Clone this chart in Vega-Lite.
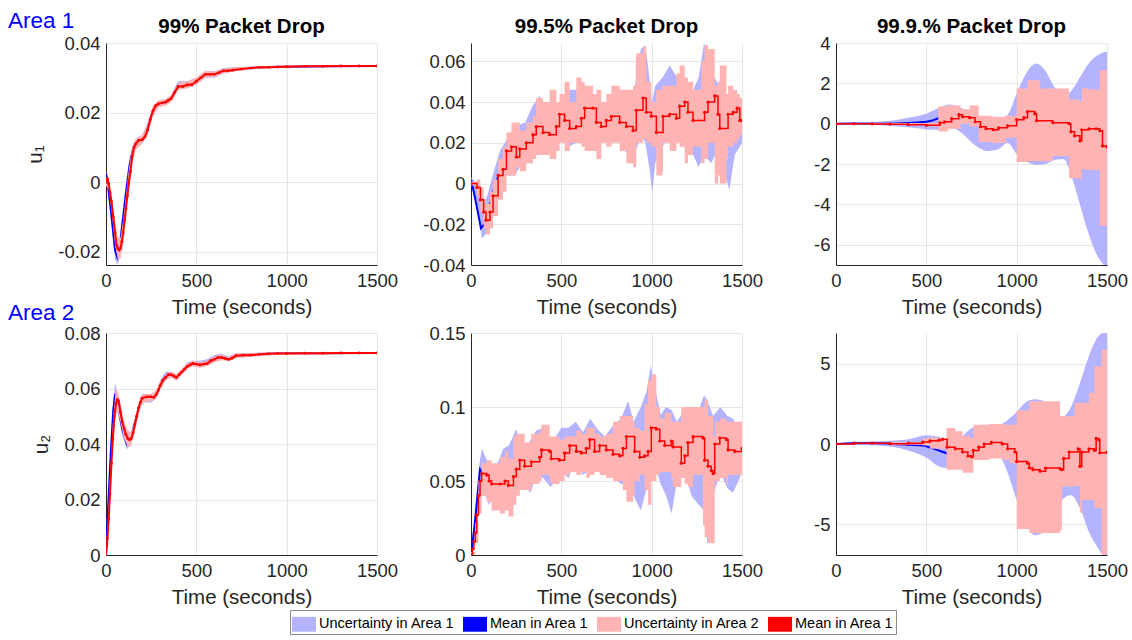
{
"$schema": "https://vega.github.io/schema/vega-lite/v6.json",
"background": "white",
"padding": {"left": 8, "top": 10, "right": 8, "bottom": 2},
"config": {
  "font": "Liberation Sans",
  "view": {"stroke": null},
  "axis": {"labelFont": "Liberation Sans", "labelFontSize": 18.5, "labelColor": "#262626", "titleFont": "Liberation Sans", "titleFontSize": 20.5, "titleFontWeight": "normal", "titleColor": "#262626", "domainColor": "#262626", "gridColor": "#e6e6e6", "ticks": false, "labelPadding": 6, "labelOverlap": false},
  "axisX": {"titlePadding": 8, "labelFlush": false, "format": "d"},
  "axisY": {"titlePadding": 12},
  "title": {"font": "Liberation Sans", "fontSize": 20.5, "fontWeight": "bold", "color": "#000000", "offset": -3},
  "legend": {"labelFont": "Liberation Sans", "labelFontSize": 14.5, "labelColor": "#000000", "symbolSize": 576, "strokeColor": "#8c8c8c", "fillColor": "white", "padding": 2, "columnPadding": 8, "labelOffset": 3}
},
"title": {"text": "Area 1", "anchor": "start", "frame": "group", "fontSize": 22.5, "fontWeight": "normal", "color": "#0000ff", "dx": -98, "offset": 0, "dy": 16},
"resolve": {"scale": {"color": "shared"}, "legend": {"color": "shared"}},
"columns": 3,
"bounds": "flush",
"spacing": {"row": 68, "column": 94},
"datasets": {
"p1": [
{"k":"b1","t":0,"y":0.0005,"y2":0.003},{"k":"b1","t":10,"y":-0.002,"y2":0.001},{"k":"b1","t":30,"y":-0.012,"y2":-0.007},{"k":"b1","t":50,"y":-0.022,"y2":-0.017},{"k":"b1","t":62,"y":-0.0238,"y2":-0.019},{"k":"b1","t":75,"y":-0.022,"y2":-0.016},{"k":"b1","t":90,"y":-0.016,"y2":-0.009},{"k":"b1","t":110,"y":-0.007,"y2":0.0},{"k":"b1","t":130,"y":0.002,"y2":0.007},{"k":"b1","t":150,"y":0.008,"y2":0.011},{"k":"b1","t":175,"y":0.0105,"y2":0.013},{"k":"b1","t":200,"y":0.011,"y2":0.0135},{"k":"b1","t":230,"y":0.014,"y2":0.017},{"k":"b1","t":260,"y":0.019,"y2":0.022},{"k":"b1","t":290,"y":0.0215,"y2":0.0235},{"k":"b1","t":330,"y":0.0222,"y2":0.0238},{"k":"b1","t":360,"y":0.0235,"y2":0.025},{"k":"b1","t":400,"y":0.027,"y2":0.029},{"k":"b1","t":450,"y":0.027,"y2":0.029},{"k":"b1","t":500,"y":0.028,"y2":0.03},{"k":"b1","t":550,"y":0.03,"y2":0.032},{"k":"b1","t":600,"y":0.03,"y2":0.0318},{"k":"b1","t":650,"y":0.0312,"y2":0.0328},{"k":"b1","t":700,"y":0.0318,"y2":0.033},{"k":"b1","t":800,"y":0.0324,"y2":0.0332},{"k":"b1","t":900,"y":0.0328,"y2":0.0334},{"k":"b1","t":1000,"y":0.033,"y2":0.0335},{"k":"b1","t":1200,"y":0.0331,"y2":0.0336},{"k":"b1","t":1500,"y":0.0333,"y2":0.0336},
{"k":"m1","t":0,"y":0.0025},{"k":"m1","t":10,"y":-0.0005},{"k":"m1","t":30,"y":-0.0095},{"k":"m1","t":50,"y":-0.0195},{"k":"m1","t":62,"y":-0.0215},{"k":"m1","t":75,"y":-0.019},{"k":"m1","t":90,"y":-0.0125},{"k":"m1","t":110,"y":-0.0035},{"k":"m1","t":130,"y":0.0045},{"k":"m1","t":150,"y":0.0095},{"k":"m1","t":175,"y":0.0118},{"k":"m1","t":200,"y":0.0123},{"k":"m1","t":230,"y":0.0155},{"k":"m1","t":260,"y":0.0205},{"k":"m1","t":290,"y":0.0226},{"k":"m1","t":330,"y":0.023},{"k":"m1","t":360,"y":0.0243},{"k":"m1","t":400,"y":0.028},{"k":"m1","t":450,"y":0.028},{"k":"m1","t":500,"y":0.029},{"k":"m1","t":550,"y":0.031},{"k":"m1","t":600,"y":0.031},{"k":"m1","t":650,"y":0.032},{"k":"m1","t":700,"y":0.0325},{"k":"m1","t":800,"y":0.0328},{"k":"m1","t":900,"y":0.0331},{"k":"m1","t":1000,"y":0.0332},{"k":"m1","t":1200,"y":0.0333},{"k":"m1","t":1500,"y":0.0334},
{"k":"b2","t":0,"y":-0.001,"y2":0.0015},{"k":"b2","t":15,"y":-0.002,"y2":0.001},{"k":"b2","t":30,"y":-0.008,"y2":-0.003},{"k":"b2","t":50,"y":-0.018,"y2":-0.011},{"k":"b2","t":65,"y":-0.022,"y2":-0.016},{"k":"b2","t":80,"y":-0.022,"y2":-0.016},{"k":"b2","t":95,"y":-0.018,"y2":-0.011},{"k":"b2","t":110,"y":-0.011,"y2":-0.004},{"k":"b2","t":125,"y":-0.004,"y2":0.003},{"k":"b2","t":145,"y":0.005,"y2":0.01},{"k":"b2","t":165,"y":0.0095,"y2":0.0125},{"k":"b2","t":200,"y":0.011,"y2":0.0135},{"k":"b2","t":230,"y":0.0135,"y2":0.0165},{"k":"b2","t":260,"y":0.019,"y2":0.022},{"k":"b2","t":290,"y":0.0215,"y2":0.0235},{"k":"b2","t":330,"y":0.022,"y2":0.0238},{"k":"b2","t":360,"y":0.023,"y2":0.025},{"k":"b2","t":400,"y":0.0265,"y2":0.0285},{"k":"b2","t":450,"y":0.027,"y2":0.029},{"k":"b2","t":500,"y":0.028,"y2":0.03},{"k":"b2","t":550,"y":0.03,"y2":0.032},{"k":"b2","t":600,"y":0.0302,"y2":0.0318},{"k":"b2","t":650,"y":0.0312,"y2":0.0326},{"k":"b2","t":700,"y":0.0318,"y2":0.033},{"k":"b2","t":800,"y":0.0325,"y2":0.0332},{"k":"b2","t":1000,"y":0.033,"y2":0.0335},{"k":"b2","t":1500,"y":0.0333,"y2":0.0336},
{"k":"m2","t":0,"y":0.0},{"k":"m2","t":8,"y":0.001},{"k":"m2","t":15,"y":-0.0005},{"k":"m2","t":22,"y":-0.003},{"k":"m2","t":30,"y":-0.0055},{"k":"m2","t":40,"y":-0.01},{"k":"m2","t":50,"y":-0.0145},{"k":"m2","t":58,"y":-0.018},{"k":"m2","t":65,"y":-0.019},{"k":"m2","t":72,"y":-0.0195},{"k":"m2","t":80,"y":-0.019},{"k":"m2","t":88,"y":-0.017},{"k":"m2","t":95,"y":-0.0145},{"k":"m2","t":103,"y":-0.011},{"k":"m2","t":110,"y":-0.0075},{"k":"m2","t":118,"y":-0.004},{"k":"m2","t":125,"y":-0.0005},{"k":"m2","t":135,"y":0.003},{"k":"m2","t":145,"y":0.0075},{"k":"m2","t":155,"y":0.01},{"k":"m2","t":165,"y":0.011},{"k":"m2","t":180,"y":0.012},{"k":"m2","t":200,"y":0.0122},{"k":"m2","t":215,"y":0.013},{"k":"m2","t":230,"y":0.015},{"k":"m2","t":245,"y":0.018},{"k":"m2","t":260,"y":0.0205},{"k":"m2","t":275,"y":0.022},{"k":"m2","t":290,"y":0.0225},{"k":"m2","t":310,"y":0.0228},{"k":"m2","t":330,"y":0.023},{"k":"m2","t":345,"y":0.0235},{"k":"m2","t":360,"y":0.024},{"k":"m2","t":380,"y":0.0258},{"k":"m2","t":400,"y":0.0275},{"k":"m2","t":425,"y":0.0275},{"k":"m2","t":450,"y":0.028},{"k":"m2","t":475,"y":0.028},{"k":"m2","t":500,"y":0.029},{"k":"m2","t":525,"y":0.03},{"k":"m2","t":550,"y":0.031},{"k":"m2","t":575,"y":0.031},{"k":"m2","t":600,"y":0.031},{"k":"m2","t":625,"y":0.0315},{"k":"m2","t":650,"y":0.032},{"k":"m2","t":675,"y":0.032},{"k":"m2","t":700,"y":0.0322},{"k":"m2","t":750,"y":0.0325},{"k":"m2","t":800,"y":0.0328},{"k":"m2","t":850,"y":0.033},{"k":"m2","t":900,"y":0.033},{"k":"m2","t":950,"y":0.0331},{"k":"m2","t":1000,"y":0.0332},{"k":"m2","t":1100,"y":0.0333},{"k":"m2","t":1200,"y":0.0333},{"k":"m2","t":1300,"y":0.0334},{"k":"m2","t":1400,"y":0.0334},{"k":"m2","t":1500,"y":0.0334}
],
"p2": [
{"k":"b1","t":0,"y":0.0,"y2":0.003},{"k":"b1","t":30,"y":-0.008,"y2":0.0},{"k":"b1","t":60,"y":-0.027,"y2":-0.012},{"k":"b1","t":90,"y":-0.024,"y2":-0.006},{"k":"b1","t":120,"y":-0.012,"y2":0.004},{"k":"b1","t":160,"y":-0.002,"y2":0.016},{"k":"b1","t":200,"y":0.004,"y2":0.022},{"k":"b1","t":240,"y":0.004,"y2":0.028},{"k":"b1","t":300,"y":0.012,"y2":0.03},{"k":"b1","t":340,"y":0.014,"y2":0.038},{"k":"b1","t":380,"y":0.016,"y2":0.043},{"k":"b1","t":420,"y":0.016,"y2":0.038},{"k":"b1","t":460,"y":0.022,"y2":0.036},{"k":"b1","t":500,"y":0.022,"y2":0.04},{"k":"b1","t":540,"y":0.018,"y2":0.046},{"k":"b1","t":580,"y":0.02,"y2":0.046},{"k":"b1","t":620,"y":0.02,"y2":0.048},{"k":"b1","t":660,"y":0.024,"y2":0.042},{"k":"b1","t":700,"y":0.02,"y2":0.038},{"k":"b1","t":750,"y":0.022,"y2":0.04},{"k":"b1","t":800,"y":0.026,"y2":0.04},{"k":"b1","t":850,"y":0.016,"y2":0.036},{"k":"b1","t":900,"y":0.012,"y2":0.044},{"k":"b1","t":940,"y":0.024,"y2":0.066},{"k":"b1","t":965,"y":0.02,"y2":0.068},{"k":"b1","t":990,"y":0.006,"y2":0.05},{"k":"b1","t":1003,"y":-0.005,"y2":0.04},{"k":"b1","t":1020,"y":0.01,"y2":0.048},{"k":"b1","t":1060,"y":0.018,"y2":0.052},{"k":"b1","t":1100,"y":0.024,"y2":0.058},{"k":"b1","t":1140,"y":0.022,"y2":0.052},{"k":"b1","t":1180,"y":0.018,"y2":0.04},{"k":"b1","t":1230,"y":0.014,"y2":0.046},{"k":"b1","t":1260,"y":0.008,"y2":0.052},{"k":"b1","t":1290,"y":0.014,"y2":0.069},{"k":"b1","t":1330,"y":0.01,"y2":0.056},{"k":"b1","t":1360,"y":0.016,"y2":0.05},{"k":"b1","t":1400,"y":0.006,"y2":0.044},{"k":"b1","t":1430,"y":-0.003,"y2":0.04},{"k":"b1","t":1460,"y":0.014,"y2":0.046},{"k":"b1","t":1500,"y":0.02,"y2":0.034},
{"k":"m1","t":0,"y":0.002},{"k":"m1","t":20,"y":-0.006},{"k":"m1","t":40,"y":-0.015},{"k":"m1","t":55,"y":-0.022},{"k":"m1","t":75,"y":-0.02},{"k":"m1","t":100,"y":-0.012},{"k":"m1","t":130,"y":-0.002},{"k":"m1","t":160,"y":0.006},{"k":"m1","t":200,"y":0.015},{"k":"m1","t":250,"y":0.016},{"k":"m1","t":300,"y":0.021},{"k":"m1","t":350,"y":0.025},{"k":"m1","t":400,"y":0.026},{"k":"m1","t":450,"y":0.025},{"k":"m1","t":500,"y":0.031},{"k":"m1","t":550,"y":0.028},{"k":"m1","t":600,"y":0.03},{"k":"m1","t":650,"y":0.034},{"k":"m1","t":700,"y":0.03},{"k":"m1","t":750,"y":0.031},{"k":"m1","t":800,"y":0.031},{"k":"m1","t":850,"y":0.028},{"k":"m1","t":900,"y":0.028},{"k":"m1","t":950,"y":0.036},{"k":"m1","t":980,"y":0.03},{"k":"m1","t":995,"y":0.026},{"k":"m1","t":1012,"y":0.023},{"k":"m1","t":1040,"y":0.026},{"k":"m1","t":1080,"y":0.032},{"k":"m1","t":1125,"y":0.038},{"k":"m1","t":1140,"y":0.039},{"k":"m1","t":1180,"y":0.037},{"k":"m1","t":1230,"y":0.032},{"k":"m1","t":1280,"y":0.033},{"k":"m1","t":1330,"y":0.038},{"k":"m1","t":1380,"y":0.03},{"k":"m1","t":1430,"y":0.03},{"k":"m1","t":1470,"y":0.034},{"k":"m1","t":1500,"y":0.029},
{"k":"b2","t":0,"y":-0.001,"y2":0.001},{"k":"b2","t":33,"y":-0.006,"y2":0.002},{"k":"b2","t":52,"y":-0.014,"y2":-0.002},{"k":"b2","t":70,"y":-0.022,"y2":-0.008},{"k":"b2","t":83,"y":-0.025,"y2":-0.01},{"k":"b2","t":105,"y":-0.022,"y2":-0.004},{"k":"b2","t":122,"y":-0.016,"y2":0.002},{"k":"b2","t":150,"y":-0.008,"y2":0.012},{"k":"b2","t":177,"y":-0.004,"y2":0.018},{"k":"b2","t":196,"y":0.004,"y2":0.025},{"k":"b2","t":224,"y":0.004,"y2":0.03},{"k":"b2","t":251,"y":0.008,"y2":0.03},{"k":"b2","t":270,"y":0.006,"y2":0.026},{"k":"b2","t":306,"y":0.01,"y2":0.03},{"k":"b2","t":343,"y":0.012,"y2":0.033},{"k":"b2","t":361,"y":0.014,"y2":0.042},{"k":"b2","t":398,"y":0.014,"y2":0.04},{"k":"b2","t":435,"y":0.012,"y2":0.046},{"k":"b2","t":472,"y":0.016,"y2":0.04},{"k":"b2","t":490,"y":0.02,"y2":0.044},{"k":"b2","t":518,"y":0.016,"y2":0.05},{"k":"b2","t":546,"y":0.02,"y2":0.04},{"k":"b2","t":583,"y":0.02,"y2":0.052},{"k":"b2","t":611,"y":0.018,"y2":0.05},{"k":"b2","t":629,"y":0.016,"y2":0.048},{"k":"b2","t":675,"y":0.016,"y2":0.044},{"k":"b2","t":694,"y":0.012,"y2":0.046},{"k":"b2","t":721,"y":0.02,"y2":0.04},{"k":"b2","t":749,"y":0.018,"y2":0.044},{"k":"b2","t":777,"y":0.02,"y2":0.048},{"k":"b2","t":823,"y":0.016,"y2":0.046},{"k":"b2","t":860,"y":0.01,"y2":0.046},{"k":"b2","t":897,"y":0.008,"y2":0.048},{"k":"b2","t":912,"y":0.008,"y2":0.062},{"k":"b2","t":915,"y":0.02,"y2":0.064},{"k":"b2","t":952,"y":0.022,"y2":0.067},{"k":"b2","t":970,"y":0.02,"y2":0.05},{"k":"b2","t":998,"y":0.018,"y2":0.04},{"k":"b2","t":1026,"y":0.004,"y2":0.046},{"k":"b2","t":1059,"y":0.006,"y2":0.048},{"k":"b2","t":1063,"y":0.02,"y2":0.048},{"k":"b2","t":1100,"y":0.016,"y2":0.048},{"k":"b2","t":1137,"y":0.02,"y2":0.054},{"k":"b2","t":1155,"y":0.018,"y2":0.058},{"k":"b2","t":1183,"y":0.01,"y2":0.052},{"k":"b2","t":1201,"y":0.014,"y2":0.05},{"k":"b2","t":1229,"y":0.018,"y2":0.046},{"k":"b2","t":1275,"y":0.01,"y2":0.06},{"k":"b2","t":1293,"y":0.012,"y2":0.068},{"k":"b2","t":1312,"y":0.02,"y2":0.066},{"k":"b2","t":1349,"y":0.0,"y2":0.048},{"k":"b2","t":1367,"y":0.004,"y2":0.05},{"k":"b2","t":1377,"y":0.0,"y2":0.058},{"k":"b2","t":1414,"y":0.012,"y2":0.044},{"k":"b2","t":1423,"y":0.018,"y2":0.048},{"k":"b2","t":1451,"y":0.02,"y2":0.046},{"k":"b2","t":1473,"y":0.022,"y2":0.044},{"k":"b2","t":1488,"y":0.024,"y2":0.042},{"k":"b2","t":1500,"y":0.024,"y2":0.04},
{"k":"m2","t":0,"y":0.0},{"k":"m2","t":33,"y":-0.002},{"k":"m2","t":52,"y":-0.008},{"k":"m2","t":70,"y":-0.014},{"k":"m2","t":83,"y":-0.018},{"k":"m2","t":105,"y":-0.014},{"k":"m2","t":122,"y":-0.006},{"k":"m2","t":150,"y":0.004},{"k":"m2","t":177,"y":0.007},{"k":"m2","t":196,"y":0.016},{"k":"m2","t":224,"y":0.018},{"k":"m2","t":251,"y":0.013},{"k":"m2","t":270,"y":0.017},{"k":"m2","t":306,"y":0.02},{"k":"m2","t":343,"y":0.024},{"k":"m2","t":361,"y":0.028},{"k":"m2","t":398,"y":0.025},{"k":"m2","t":435,"y":0.024},{"k":"m2","t":472,"y":0.028},{"k":"m2","t":490,"y":0.034},{"k":"m2","t":518,"y":0.031},{"k":"m2","t":546,"y":0.027},{"k":"m2","t":583,"y":0.028},{"k":"m2","t":611,"y":0.032},{"k":"m2","t":629,"y":0.037},{"k":"m2","t":675,"y":0.037},{"k":"m2","t":694,"y":0.03},{"k":"m2","t":721,"y":0.028},{"k":"m2","t":749,"y":0.031},{"k":"m2","t":777,"y":0.033},{"k":"m2","t":823,"y":0.03},{"k":"m2","t":860,"y":0.028},{"k":"m2","t":897,"y":0.026},{"k":"m2","t":915,"y":0.036},{"k":"m2","t":952,"y":0.042},{"k":"m2","t":970,"y":0.035},{"k":"m2","t":998,"y":0.033},{"k":"m2","t":1026,"y":0.025},{"k":"m2","t":1063,"y":0.033},{"k":"m2","t":1100,"y":0.034},{"k":"m2","t":1137,"y":0.032},{"k":"m2","t":1155,"y":0.038},{"k":"m2","t":1183,"y":0.04},{"k":"m2","t":1201,"y":0.035},{"k":"m2","t":1229,"y":0.031},{"k":"m2","t":1293,"y":0.035},{"k":"m2","t":1312,"y":0.04},{"k":"m2","t":1349,"y":0.043},{"k":"m2","t":1367,"y":0.034},{"k":"m2","t":1377,"y":0.027},{"k":"m2","t":1423,"y":0.034},{"k":"m2","t":1451,"y":0.035},{"k":"m2","t":1473,"y":0.037},{"k":"m2","t":1488,"y":0.031},{"k":"m2","t":1500,"y":0.031}
],
"p3": [
{"k":"b1","t":0,"y":-0.02,"y2":0.02},{"k":"b1","t":100,"y":-0.03,"y2":0.05},{"k":"b1","t":200,"y":-0.05,"y2":0.08},{"k":"b1","t":300,"y":-0.1,"y2":0.15},{"k":"b1","t":400,"y":-0.18,"y2":0.3},{"k":"b1","t":500,"y":-0.28,"y2":0.5},{"k":"b1","t":570,"y":-0.3,"y2":0.78},{"k":"b1","t":630,"y":-0.15,"y2":0.95},{"k":"b1","t":700,"y":-0.5,"y2":0.75},{"k":"b1","t":760,"y":-1.0,"y2":0.5},{"k":"b1","t":840,"y":-1.35,"y2":0.3},{"k":"b1","t":900,"y":-1.25,"y2":0.25},{"k":"b1","t":950,"y":-0.95,"y2":0.45},{"k":"b1","t":1000,"y":-1.5,"y2":1.5},{"k":"b1","t":1060,"y":-1.9,"y2":2.6},{"k":"b1","t":1110,"y":-2.05,"y2":2.98},{"k":"b1","t":1160,"y":-2.0,"y2":2.6},{"k":"b1","t":1210,"y":-1.8,"y2":1.8},{"k":"b1","t":1260,"y":-1.75,"y2":1.4},{"k":"b1","t":1300,"y":-2.5,"y2":1.6},{"k":"b1","t":1350,"y":-4.0,"y2":2.3},{"k":"b1","t":1400,"y":-5.5,"y2":3.0},{"k":"b1","t":1450,"y":-6.6,"y2":3.4},{"k":"b1","t":1490,"y":-7.0,"y2":3.55},{"k":"b1","t":1500,"y":-7.0,"y2":3.55},
{"k":"m1","t":0,"y":0.0},{"k":"m1","t":100,"y":0.01},{"k":"m1","t":200,"y":0.0},{"k":"m1","t":300,"y":0.0},{"k":"m1","t":400,"y":0.03},{"k":"m1","t":450,"y":0.06},{"k":"m1","t":500,"y":0.1},{"k":"m1","t":540,"y":0.18},{"k":"m1","t":570,"y":0.28},{"k":"m1","t":620,"y":0.35},{"k":"m1","t":700,"y":0.3},{"k":"m1","t":800,"y":-0.1},{"k":"m1","t":900,"y":-0.2},{"k":"m1","t":1000,"y":0.1},{"k":"m1","t":1100,"y":0.3},{"k":"m1","t":1200,"y":0.0},{"k":"m1","t":1300,"y":-0.5},{"k":"m1","t":1400,"y":-1.0},{"k":"m1","t":1500,"y":-1.75},
{"k":"b2","t":0,"y":-0.03,"y2":0.03},{"k":"b2","t":300,"y":-0.06,"y2":0.04},{"k":"b2","t":500,"y":-0.12,"y2":0.04},{"k":"b2","t":566,"y":-0.38,"y2":0.85},{"k":"b2","t":620,"y":-0.25,"y2":0.9},{"k":"b2","t":690,"y":0.0,"y2":0.72},{"k":"b2","t":740,"y":-0.15,"y2":0.9},{"k":"b2","t":790,"y":-0.9,"y2":0.4},{"k":"b2","t":860,"y":-0.95,"y2":0.35},{"k":"b2","t":940,"y":-0.7,"y2":0.4},{"k":"b2","t":1000,"y":-1.9,"y2":1.75},{"k":"b2","t":1060,"y":-1.85,"y2":2.15},{"k":"b2","t":1130,"y":-1.85,"y2":1.75},{"k":"b2","t":1200,"y":-1.6,"y2":1.75},{"k":"b2","t":1290,"y":-2.7,"y2":1.2},{"k":"b2","t":1350,"y":-2.75,"y2":1.1},{"k":"b2","t":1360,"y":-2.26,"y2":1.75},{"k":"b2","t":1400,"y":-2.3,"y2":1.7},{"k":"b2","t":1460,"y":-5.05,"y2":2.65},{"k":"b2","t":1500,"y":-5.0,"y2":2.7},
{"k":"m2","t":0,"y":0.0},{"k":"m2","t":100,"y":0.0},{"k":"m2","t":200,"y":-0.01},{"k":"m2","t":300,"y":-0.02},{"k":"m2","t":400,"y":-0.05},{"k":"m2","t":500,"y":-0.08},{"k":"m2","t":575,"y":0.05},{"k":"m2","t":600,"y":0.1},{"k":"m2","t":640,"y":0.25},{"k":"m2","t":680,"y":0.45},{"k":"m2","t":700,"y":0.35},{"k":"m2","t":740,"y":0.3},{"k":"m2","t":770,"y":0.1},{"k":"m2","t":800,"y":-0.15},{"k":"m2","t":830,"y":-0.25},{"k":"m2","t":870,"y":-0.3},{"k":"m2","t":900,"y":-0.2},{"k":"m2","t":950,"y":-0.1},{"k":"m2","t":1000,"y":0.2},{"k":"m2","t":1040,"y":0.3},{"k":"m2","t":1060,"y":0.6},{"k":"m2","t":1100,"y":0.5},{"k":"m2","t":1110,"y":0.15},{"k":"m2","t":1200,"y":0.05},{"k":"m2","t":1290,"y":0.0},{"k":"m2","t":1300,"y":-0.4},{"k":"m2","t":1320,"y":-0.6},{"k":"m2","t":1350,"y":-0.85},{"k":"m2","t":1360,"y":-0.3},{"k":"m2","t":1400,"y":-0.25},{"k":"m2","t":1440,"y":-0.25},{"k":"m2","t":1460,"y":-0.35},{"k":"m2","t":1475,"y":-1.1},{"k":"m2","t":1500,"y":-1.15}
],
"p4": [
{"k":"b1","t":0,"y":0.0,"y2":0.001},{"k":"b1","t":10,"y":0.012,"y2":0.018},{"k":"b1","t":25,"y":0.032,"y2":0.038},{"k":"b1","t":40,"y":0.049,"y2":0.055},{"k":"b1","t":50,"y":0.055,"y2":0.062},{"k":"b1","t":65,"y":0.051,"y2":0.058},{"k":"b1","t":90,"y":0.043,"y2":0.048},{"k":"b1","t":115,"y":0.038,"y2":0.042},{"k":"b1","t":140,"y":0.04,"y2":0.045},{"k":"b1","t":170,"y":0.048,"y2":0.052},{"k":"b1","t":200,"y":0.055,"y2":0.058},{"k":"b1","t":250,"y":0.055,"y2":0.058},{"k":"b1","t":280,"y":0.0565,"y2":0.059},{"k":"b1","t":300,"y":0.06,"y2":0.063},{"k":"b1","t":330,"y":0.063,"y2":0.066},{"k":"b1","t":360,"y":0.064,"y2":0.066},{"k":"b1","t":390,"y":0.063,"y2":0.065},{"k":"b1","t":420,"y":0.065,"y2":0.067},{"k":"b1","t":450,"y":0.067,"y2":0.0695},{"k":"b1","t":480,"y":0.068,"y2":0.07},{"k":"b1","t":520,"y":0.068,"y2":0.07},{"k":"b1","t":560,"y":0.0685,"y2":0.0705},{"k":"b1","t":600,"y":0.07,"y2":0.072},{"k":"b1","t":640,"y":0.0705,"y2":0.0725},{"k":"b1","t":680,"y":0.07,"y2":0.0715},{"k":"b1","t":720,"y":0.071,"y2":0.0728},{"k":"b1","t":800,"y":0.0715,"y2":0.0728},{"k":"b1","t":900,"y":0.072,"y2":0.073},{"k":"b1","t":1000,"y":0.0722,"y2":0.0731},{"k":"b1","t":1500,"y":0.0725,"y2":0.0731},
{"k":"m1","t":0,"y":0.0},{"k":"m1","t":10,"y":0.015},{"k":"m1","t":25,"y":0.035},{"k":"m1","t":40,"y":0.052},{"k":"m1","t":50,"y":0.058},{"k":"m1","t":65,"y":0.0545},{"k":"m1","t":90,"y":0.0455},{"k":"m1","t":115,"y":0.04},{"k":"m1","t":140,"y":0.0425},{"k":"m1","t":170,"y":0.05},{"k":"m1","t":200,"y":0.0565},{"k":"m1","t":250,"y":0.0565},{"k":"m1","t":280,"y":0.0578},{"k":"m1","t":300,"y":0.0615},{"k":"m1","t":330,"y":0.0645},{"k":"m1","t":360,"y":0.065},{"k":"m1","t":390,"y":0.064},{"k":"m1","t":420,"y":0.066},{"k":"m1","t":450,"y":0.068},{"k":"m1","t":480,"y":0.069},{"k":"m1","t":520,"y":0.069},{"k":"m1","t":560,"y":0.0695},{"k":"m1","t":600,"y":0.071},{"k":"m1","t":640,"y":0.0715},{"k":"m1","t":680,"y":0.0708},{"k":"m1","t":720,"y":0.072},{"k":"m1","t":800,"y":0.0722},{"k":"m1","t":900,"y":0.0725},{"k":"m1","t":1000,"y":0.0727},{"k":"m1","t":1500,"y":0.0728},
{"k":"b2","t":0,"y":0.0,"y2":0.001},{"k":"b2","t":10,"y":0.005,"y2":0.012},{"k":"b2","t":20,"y":0.016,"y2":0.026},{"k":"b2","t":30,"y":0.028,"y2":0.038},{"k":"b2","t":40,"y":0.04,"y2":0.05},{"k":"b2","t":55,"y":0.05,"y2":0.06},{"k":"b2","t":65,"y":0.052,"y2":0.059},{"k":"b2","t":80,"y":0.048,"y2":0.055},{"k":"b2","t":100,"y":0.042,"y2":0.048},{"k":"b2","t":120,"y":0.039,"y2":0.045},{"k":"b2","t":135,"y":0.039,"y2":0.044},{"k":"b2","t":150,"y":0.042,"y2":0.046},{"k":"b2","t":170,"y":0.048,"y2":0.052},{"k":"b2","t":190,"y":0.053,"y2":0.057},{"k":"b2","t":210,"y":0.055,"y2":0.058},{"k":"b2","t":250,"y":0.0555,"y2":0.058},{"k":"b2","t":280,"y":0.0565,"y2":0.0595},{"k":"b2","t":300,"y":0.0595,"y2":0.0625},{"k":"b2","t":330,"y":0.063,"y2":0.065},{"k":"b2","t":360,"y":0.064,"y2":0.066},{"k":"b2","t":390,"y":0.0628,"y2":0.0652},{"k":"b2","t":420,"y":0.065,"y2":0.067},{"k":"b2","t":450,"y":0.067,"y2":0.069},{"k":"b2","t":480,"y":0.068,"y2":0.07},{"k":"b2","t":520,"y":0.0675,"y2":0.0695},{"k":"b2","t":560,"y":0.068,"y2":0.07},{"k":"b2","t":600,"y":0.0695,"y2":0.0715},{"k":"b2","t":640,"y":0.0702,"y2":0.0722},{"k":"b2","t":680,"y":0.0698,"y2":0.0713},{"k":"b2","t":720,"y":0.071,"y2":0.0726},{"k":"b2","t":800,"y":0.0714,"y2":0.0727},{"k":"b2","t":900,"y":0.072,"y2":0.073},{"k":"b2","t":1000,"y":0.0722,"y2":0.073},{"k":"b2","t":1500,"y":0.0724,"y2":0.0731},
{"k":"m2","t":0,"y":0.0},{"k":"m2","t":8,"y":0.006},{"k":"m2","t":15,"y":0.013},{"k":"m2","t":22,"y":0.022},{"k":"m2","t":30,"y":0.033},{"k":"m2","t":38,"y":0.042},{"k":"m2","t":46,"y":0.05},{"k":"m2","t":55,"y":0.0545},{"k":"m2","t":62,"y":0.056},{"k":"m2","t":70,"y":0.0555},{"k":"m2","t":80,"y":0.0515},{"k":"m2","t":90,"y":0.048},{"k":"m2","t":100,"y":0.0455},{"k":"m2","t":110,"y":0.0435},{"k":"m2","t":120,"y":0.042},{"k":"m2","t":130,"y":0.0415},{"k":"m2","t":140,"y":0.042},{"k":"m2","t":150,"y":0.044},{"k":"m2","t":160,"y":0.047},{"k":"m2","t":170,"y":0.05},{"k":"m2","t":180,"y":0.053},{"k":"m2","t":190,"y":0.055},{"k":"m2","t":200,"y":0.0565},{"k":"m2","t":225,"y":0.057},{"k":"m2","t":250,"y":0.057},{"k":"m2","t":265,"y":0.0568},{"k":"m2","t":280,"y":0.058},{"k":"m2","t":290,"y":0.0595},{"k":"m2","t":300,"y":0.061},{"k":"m2","t":315,"y":0.063},{"k":"m2","t":330,"y":0.064},{"k":"m2","t":345,"y":0.065},{"k":"m2","t":360,"y":0.065},{"k":"m2","t":375,"y":0.0645},{"k":"m2","t":390,"y":0.064},{"k":"m2","t":405,"y":0.065},{"k":"m2","t":420,"y":0.066},{"k":"m2","t":435,"y":0.067},{"k":"m2","t":450,"y":0.068},{"k":"m2","t":465,"y":0.0685},{"k":"m2","t":480,"y":0.069},{"k":"m2","t":500,"y":0.0688},{"k":"m2","t":520,"y":0.0685},{"k":"m2","t":540,"y":0.0688},{"k":"m2","t":560,"y":0.069},{"k":"m2","t":580,"y":0.07},{"k":"m2","t":600,"y":0.0705},{"k":"m2","t":620,"y":0.0712},{"k":"m2","t":640,"y":0.0712},{"k":"m2","t":660,"y":0.0708},{"k":"m2","t":680,"y":0.0705},{"k":"m2","t":700,"y":0.071},{"k":"m2","t":720,"y":0.0718},{"k":"m2","t":760,"y":0.072},{"k":"m2","t":800,"y":0.072},{"k":"m2","t":850,"y":0.0723},{"k":"m2","t":900,"y":0.0725},{"k":"m2","t":950,"y":0.0726},{"k":"m2","t":1000,"y":0.0726},{"k":"m2","t":1100,"y":0.0727},{"k":"m2","t":1200,"y":0.0727},{"k":"m2","t":1300,"y":0.0728},{"k":"m2","t":1400,"y":0.0728},{"k":"m2","t":1500,"y":0.0728}
],
"p5": [
{"k":"b1","t":0,"y":0.0,"y2":0.002},{"k":"b1","t":25,"y":0.01,"y2":0.035},{"k":"b1","t":45,"y":0.036,"y2":0.06},{"k":"b1","t":60,"y":0.044,"y2":0.072},{"k":"b1","t":80,"y":0.04,"y2":0.066},{"k":"b1","t":100,"y":0.034,"y2":0.06},{"k":"b1","t":130,"y":0.04,"y2":0.06},{"k":"b1","t":150,"y":0.032,"y2":0.063},{"k":"b1","t":180,"y":0.038,"y2":0.072},{"k":"b1","t":210,"y":0.042,"y2":0.074},{"k":"b1","t":250,"y":0.044,"y2":0.085},{"k":"b1","t":280,"y":0.048,"y2":0.074},{"k":"b1","t":300,"y":0.046,"y2":0.07},{"k":"b1","t":330,"y":0.042,"y2":0.078},{"k":"b1","t":360,"y":0.054,"y2":0.084},{"k":"b1","t":400,"y":0.052,"y2":0.086},{"k":"b1","t":440,"y":0.046,"y2":0.074},{"k":"b1","t":470,"y":0.05,"y2":0.08},{"k":"b1","t":500,"y":0.056,"y2":0.086},{"k":"b1","t":540,"y":0.052,"y2":0.086},{"k":"b1","t":580,"y":0.064,"y2":0.09},{"k":"b1","t":620,"y":0.054,"y2":0.083},{"k":"b1","t":660,"y":0.058,"y2":0.092},{"k":"b1","t":700,"y":0.056,"y2":0.085},{"k":"b1","t":740,"y":0.058,"y2":0.08},{"k":"b1","t":790,"y":0.052,"y2":0.088},{"k":"b1","t":830,"y":0.048,"y2":0.092},{"k":"b1","t":870,"y":0.048,"y2":0.104},{"k":"b1","t":900,"y":0.04,"y2":0.09},{"k":"b1","t":940,"y":0.03,"y2":0.1},{"k":"b1","t":970,"y":0.044,"y2":0.11},{"k":"b1","t":995,"y":0.056,"y2":0.128},{"k":"b1","t":1020,"y":0.06,"y2":0.112},{"k":"b1","t":1050,"y":0.048,"y2":0.095},{"k":"b1","t":1080,"y":0.04,"y2":0.1},{"k":"b1","t":1110,"y":0.028,"y2":0.098},{"k":"b1","t":1140,"y":0.05,"y2":0.09},{"k":"b1","t":1180,"y":0.058,"y2":0.098},{"k":"b1","t":1220,"y":0.04,"y2":0.096},{"k":"b1","t":1260,"y":0.034,"y2":0.098},{"k":"b1","t":1290,"y":0.03,"y2":0.108},{"k":"b1","t":1310,"y":0.006,"y2":0.104},{"k":"b1","t":1340,"y":0.04,"y2":0.094},{"k":"b1","t":1380,"y":0.056,"y2":0.1},{"k":"b1","t":1420,"y":0.045,"y2":0.094},{"k":"b1","t":1450,"y":0.042,"y2":0.092},{"k":"b1","t":1480,"y":0.05,"y2":0.086},{"k":"b1","t":1500,"y":0.056,"y2":0.088},
{"k":"m1","t":0,"y":0.0},{"k":"m1","t":20,"y":0.02},{"k":"m1","t":40,"y":0.045},{"k":"m1","t":50,"y":0.058},{"k":"m1","t":80,"y":0.053},{"k":"m1","t":150,"y":0.049},{"k":"m1","t":250,"y":0.058},{"k":"m1","t":350,"y":0.066},{"k":"m1","t":450,"y":0.068},{"k":"m1","t":550,"y":0.07},{"k":"m1","t":650,"y":0.073},{"k":"m1","t":750,"y":0.071},{"k":"m1","t":850,"y":0.074},{"k":"m1","t":960,"y":0.076},{"k":"m1","t":985,"y":0.08},{"k":"m1","t":1020,"y":0.08},{"k":"m1","t":1080,"y":0.07},{"k":"m1","t":1110,"y":0.064},{"k":"m1","t":1150,"y":0.066},{"k":"m1","t":1250,"y":0.072},{"k":"m1","t":1350,"y":0.074},{"k":"m1","t":1450,"y":0.073},{"k":"m1","t":1500,"y":0.075},
{"k":"b2","t":0,"y":0.0,"y2":0.002},{"k":"b2","t":24,"y":0.008,"y2":0.022},{"k":"b2","t":41,"y":0.028,"y2":0.05},{"k":"b2","t":59,"y":0.04,"y2":0.062},{"k":"b2","t":87,"y":0.036,"y2":0.064},{"k":"b2","t":114,"y":0.03,"y2":0.062},{"k":"b2","t":161,"y":0.028,"y2":0.066},{"k":"b2","t":188,"y":0.03,"y2":0.07},{"k":"b2","t":207,"y":0.026,"y2":0.065},{"k":"b2","t":235,"y":0.034,"y2":0.08},{"k":"b2","t":251,"y":0.04,"y2":0.082},{"k":"b2","t":270,"y":0.044,"y2":0.082},{"k":"b2","t":297,"y":0.044,"y2":0.076},{"k":"b2","t":334,"y":0.048,"y2":0.082},{"k":"b2","t":380,"y":0.05,"y2":0.084},{"k":"b2","t":390,"y":0.054,"y2":0.088},{"k":"b2","t":435,"y":0.05,"y2":0.08},{"k":"b2","t":444,"y":0.048,"y2":0.08},{"k":"b2","t":490,"y":0.05,"y2":0.078},{"k":"b2","t":518,"y":0.054,"y2":0.08},{"k":"b2","t":546,"y":0.056,"y2":0.08},{"k":"b2","t":583,"y":0.054,"y2":0.084},{"k":"b2","t":611,"y":0.056,"y2":0.082},{"k":"b2","t":638,"y":0.052,"y2":0.086},{"k":"b2","t":657,"y":0.054,"y2":0.086},{"k":"b2","t":684,"y":0.056,"y2":0.082},{"k":"b2","t":712,"y":0.054,"y2":0.08},{"k":"b2","t":749,"y":0.052,"y2":0.082},{"k":"b2","t":786,"y":0.05,"y2":0.09},{"k":"b2","t":823,"y":0.05,"y2":0.094},{"k":"b2","t":841,"y":0.044,"y2":0.094},{"k":"b2","t":860,"y":0.036,"y2":0.094},{"k":"b2","t":897,"y":0.04,"y2":0.09},{"k":"b2","t":906,"y":0.05,"y2":0.086},{"k":"b2","t":934,"y":0.054,"y2":0.084},{"k":"b2","t":961,"y":0.044,"y2":0.102},{"k":"b2","t":980,"y":0.034,"y2":0.118},{"k":"b2","t":998,"y":0.05,"y2":0.122},{"k":"b2","t":1026,"y":0.054,"y2":0.1},{"k":"b2","t":1045,"y":0.056,"y2":0.092},{"k":"b2","t":1072,"y":0.056,"y2":0.096},{"k":"b2","t":1109,"y":0.052,"y2":0.09},{"k":"b2","t":1118,"y":0.046,"y2":0.09},{"k":"b2","t":1164,"y":0.052,"y2":0.1},{"k":"b2","t":1183,"y":0.048,"y2":0.1},{"k":"b2","t":1201,"y":0.046,"y2":0.1},{"k":"b2","t":1229,"y":0.054,"y2":0.1},{"k":"b2","t":1284,"y":0.02,"y2":0.1},{"k":"b2","t":1293,"y":0.012,"y2":0.105},{"k":"b2","t":1312,"y":0.008,"y2":0.094},{"k":"b2","t":1340,"y":0.008,"y2":0.08},{"k":"b2","t":1349,"y":0.05,"y2":0.09},{"k":"b2","t":1377,"y":0.052,"y2":0.092},{"k":"b2","t":1414,"y":0.048,"y2":0.09},{"k":"b2","t":1423,"y":0.054,"y2":0.09},{"k":"b2","t":1460,"y":0.054,"y2":0.09},{"k":"b2","t":1500,"y":0.054,"y2":0.088},
{"k":"m2","t":0,"y":0.0},{"k":"m2","t":8,"y":0.004},{"k":"m2","t":16,"y":0.009},{"k":"m2","t":24,"y":0.015},{"k":"m2","t":32,"y":0.027},{"k":"m2","t":41,"y":0.04},{"k":"m2","t":50,"y":0.05},{"k":"m2","t":59,"y":0.055},{"k":"m2","t":87,"y":0.054},{"k":"m2","t":100,"y":0.05},{"k":"m2","t":114,"y":0.048},{"k":"m2","t":161,"y":0.048},{"k":"m2","t":188,"y":0.05},{"k":"m2","t":207,"y":0.047},{"k":"m2","t":235,"y":0.053},{"k":"m2","t":251,"y":0.058},{"k":"m2","t":270,"y":0.064},{"k":"m2","t":297,"y":0.06},{"k":"m2","t":334,"y":0.063},{"k":"m2","t":380,"y":0.066},{"k":"m2","t":390,"y":0.071},{"k":"m2","t":435,"y":0.07},{"k":"m2","t":444,"y":0.065},{"k":"m2","t":490,"y":0.064},{"k":"m2","t":518,"y":0.069},{"k":"m2","t":546,"y":0.074},{"k":"m2","t":583,"y":0.07},{"k":"m2","t":611,"y":0.069},{"k":"m2","t":638,"y":0.072},{"k":"m2","t":657,"y":0.078},{"k":"m2","t":684,"y":0.07},{"k":"m2","t":712,"y":0.074},{"k":"m2","t":749,"y":0.071},{"k":"m2","t":786,"y":0.068},{"k":"m2","t":823,"y":0.067},{"k":"m2","t":841,"y":0.072},{"k":"m2","t":860,"y":0.08},{"k":"m2","t":906,"y":0.07},{"k":"m2","t":934,"y":0.066},{"k":"m2","t":961,"y":0.067},{"k":"m2","t":980,"y":0.07},{"k":"m2","t":998,"y":0.086},{"k":"m2","t":1026,"y":0.085},{"k":"m2","t":1045,"y":0.077},{"k":"m2","t":1072,"y":0.074},{"k":"m2","t":1109,"y":0.077},{"k":"m2","t":1118,"y":0.073},{"k":"m2","t":1164,"y":0.062},{"k":"m2","t":1183,"y":0.067},{"k":"m2","t":1201,"y":0.076},{"k":"m2","t":1229,"y":0.08},{"k":"m2","t":1284,"y":0.079},{"k":"m2","t":1293,"y":0.064},{"k":"m2","t":1312,"y":0.06},{"k":"m2","t":1330,"y":0.057},{"k":"m2","t":1340,"y":0.055},{"k":"m2","t":1349,"y":0.075},{"k":"m2","t":1377,"y":0.079},{"k":"m2","t":1414,"y":0.078},{"k":"m2","t":1423,"y":0.071},{"k":"m2","t":1460,"y":0.07},{"k":"m2","t":1500,"y":0.072}
],
"p6": [
{"k":"b1","t":0,"y":-0.02,"y2":0.02},{"k":"b1","t":100,"y":-0.05,"y2":0.12},{"k":"b1","t":200,"y":-0.08,"y2":0.15},{"k":"b1","t":300,"y":-0.15,"y2":0.2},{"k":"b1","t":400,"y":-0.4,"y2":0.3},{"k":"b1","t":500,"y":-0.85,"y2":0.55},{"k":"b1","t":570,"y":-1.4,"y2":0.45},{"k":"b1","t":620,"y":-1.5,"y2":0.1},{"k":"b1","t":680,"y":-1.0,"y2":0.3},{"k":"b1","t":740,"y":-0.2,"y2":0.9},{"k":"b1","t":800,"y":-0.3,"y2":1.2},{"k":"b1","t":860,"y":-0.3,"y2":1.2},{"k":"b1","t":900,"y":-0.6,"y2":1.2},{"k":"b1","t":950,"y":-1.8,"y2":1.5},{"k":"b1","t":1000,"y":-3.5,"y2":2.0},{"k":"b1","t":1050,"y":-4.8,"y2":2.6},{"k":"b1","t":1100,"y":-5.7,"y2":2.8},{"k":"b1","t":1150,"y":-5.5,"y2":2.7},{"k":"b1","t":1200,"y":-4.5,"y2":2.1},{"k":"b1","t":1250,"y":-3.5,"y2":1.7},{"k":"b1","t":1300,"y":-3.2,"y2":2.3},{"k":"b1","t":1350,"y":-4.0,"y2":3.8},{"k":"b1","t":1400,"y":-5.5,"y2":5.5},{"k":"b1","t":1450,"y":-6.5,"y2":6.7},{"k":"b1","t":1480,"y":-6.93,"y2":6.93},{"k":"b1","t":1500,"y":-6.93,"y2":6.93},
{"k":"m1","t":0,"y":0.0},{"k":"m1","t":100,"y":0.05},{"k":"m1","t":200,"y":0.05},{"k":"m1","t":300,"y":0.02},{"k":"m1","t":400,"y":-0.05},{"k":"m1","t":480,"y":-0.1},{"k":"m1","t":530,"y":-0.25},{"k":"m1","t":580,"y":-0.45},{"k":"m1","t":620,"y":-0.6},{"k":"m1","t":700,"y":-0.8},{"k":"m1","t":800,"y":0.0},{"k":"m1","t":900,"y":0.1},{"k":"m1","t":1000,"y":-1.0},{"k":"m1","t":1100,"y":-1.5},{"k":"m1","t":1200,"y":-1.2},{"k":"m1","t":1300,"y":-0.8},{"k":"m1","t":1400,"y":-0.2},{"k":"m1","t":1500,"y":0.1},
{"k":"b2","t":0,"y":-0.02,"y2":0.02},{"k":"b2","t":300,"y":-0.05,"y2":0.1},{"k":"b2","t":480,"y":-0.1,"y2":0.35},{"k":"b2","t":520,"y":-0.3,"y2":0.4},{"k":"b2","t":570,"y":-0.3,"y2":0.3},{"k":"b2","t":612,"y":-1.6,"y2":1.0},{"k":"b2","t":660,"y":-1.6,"y2":0.8},{"k":"b2","t":700,"y":-1.8,"y2":0.5},{"k":"b2","t":740,"y":-1.8,"y2":0.37},{"k":"b2","t":760,"y":-1.0,"y2":1.2},{"k":"b2","t":850,"y":-0.9,"y2":1.25},{"k":"b2","t":930,"y":-1.0,"y2":1.2},{"k":"b2","t":960,"y":-1.2,"y2":1.2},{"k":"b2","t":1000,"y":-5.3,"y2":2.1},{"k":"b2","t":1070,"y":-5.56,"y2":2.67},{"k":"b2","t":1240,"y":-5.4,"y2":1.73},{"k":"b2","t":1250,"y":-2.65,"y2":1.73},{"k":"b2","t":1320,"y":-2.6,"y2":2.56},{"k":"b2","t":1350,"y":-4.3,"y2":2.56},{"k":"b2","t":1360,"y":-3.5,"y2":2.56},{"k":"b2","t":1400,"y":-3.5,"y2":3.2},{"k":"b2","t":1430,"y":-4.0,"y2":4.85},{"k":"b2","t":1470,"y":-6.9,"y2":5.9},{"k":"b2","t":1500,"y":-6.9,"y2":5.9},
{"k":"m2","t":0,"y":0.0},{"k":"m2","t":100,"y":0.05},{"k":"m2","t":200,"y":0.05},{"k":"m2","t":300,"y":0.02},{"k":"m2","t":400,"y":0.05},{"k":"m2","t":480,"y":0.12},{"k":"m2","t":520,"y":0.2},{"k":"m2","t":570,"y":0.25},{"k":"m2","t":590,"y":0.3},{"k":"m2","t":615,"y":-0.2},{"k":"m2","t":660,"y":-0.3},{"k":"m2","t":700,"y":-0.5},{"k":"m2","t":730,"y":-0.75},{"k":"m2","t":750,"y":-0.8},{"k":"m2","t":760,"y":-0.4},{"k":"m2","t":790,"y":-0.2},{"k":"m2","t":820,"y":0.0},{"k":"m2","t":860,"y":0.1},{"k":"m2","t":920,"y":0.0},{"k":"m2","t":950,"y":-0.3},{"k":"m2","t":990,"y":-0.5},{"k":"m2","t":1000,"y":-1.1},{"k":"m2","t":1060,"y":-1.2},{"k":"m2","t":1070,"y":-1.5},{"k":"m2","t":1090,"y":-1.6},{"k":"m2","t":1130,"y":-1.7},{"k":"m2","t":1160,"y":-1.5},{"k":"m2","t":1240,"y":-1.55},{"k":"m2","t":1250,"y":-1.6},{"k":"m2","t":1260,"y":-0.9},{"k":"m2","t":1290,"y":-0.5},{"k":"m2","t":1340,"y":-0.3},{"k":"m2","t":1350,"y":-1.4},{"k":"m2","t":1360,"y":-0.5},{"k":"m2","t":1400,"y":-0.3},{"k":"m2","t":1430,"y":-0.4},{"k":"m2","t":1440,"y":0.35},{"k":"m2","t":1455,"y":0.25},{"k":"m2","t":1460,"y":-0.55},{"k":"m2","t":1500,"y":-0.5}
]
},
"concat": [
{
"width": 271, "height": 222, "title": "99% Packet Drop", "data": {"name": "p1"},
"encoding": {
 "x": {"field": "t", "type": "quantitative", "scale": {"domain": [0, 1500], "nice": false}, "axis": {"values": [0, 500, 1000, 1500], "title": "Time (seconds)"}},
 "y": {"field": "y", "type": "quantitative", "scale": {"domain": [-0.0238, 0.04], "nice": false, "zero": false}, "axis": {"values": [-0.02, 0, 0.02, 0.04], "title": "u₁", "labelExpr": "datum.value < 0 ? '-' + format(-datum.value, '~g') : format(datum.value, '~g')"}}
},
"layer": [
 {"transform": [{"filter": "datum.k == 'b1'"}], "mark": {"type": "area", "clip": true}, "encoding": {"y2": {"field": "y2"}, "color": {"datum": "Uncertainty in Area 1", "type": "nominal", "scale": {"domain": ["Uncertainty in Area 1", "Mean in Area 1", "Uncertainty in Area 2", "Mean in Area 2"], "range": ["#b3b3ff", "#0000ff", "#ffb3b3", "#ff0000"]}, "legend": {"orient": "none", "legendX": 184, "legendY": 567, "direction": "horizontal", "title": null, "symbolType": "M-1,-0.62H1V0.62H-1Z", "symbolStrokeWidth": 0, "labelExpr": "datum.label == 'Mean in Area 2' ? 'Mean in Area 1' : datum.label"}}}},
 {"transform": [{"filter": "datum.k == 'm1'"}], "mark": {"type": "line", "clip": true, "strokeWidth": 2}, "encoding": {"color": {"datum": "Mean in Area 1"}}},
 {"transform": [{"filter": "datum.k == 'b2'"}], "mark": {"type": "area", "clip": true}, "encoding": {"y2": {"field": "y2"}, "color": {"datum": "Uncertainty in Area 2"}}},
 {"transform": [{"filter": "datum.k == 'm2'"}], "mark": {"type": "line", "clip": true, "strokeWidth": 2, "point": {"filled": true, "size": 8}}, "encoding": {"color": {"datum": "Mean in Area 2"}}}
]
},
{
"width": 271, "height": 222, "title": {"text": "99.5% Packet Drop", "offset": 6}, "data": {"name": "p2"},
"encoding": {
 "x": {"field": "t", "type": "quantitative", "scale": {"domain": [0, 1500], "nice": false}, "axis": {"values": [0, 500, 1000, 1500], "title": "Time (seconds)"}},
 "y": {"field": "y", "type": "quantitative", "scale": {"domain": [-0.04, 0.069], "nice": false, "zero": false}, "axis": {"values": [-0.04, -0.02, 0, 0.02, 0.04, 0.06], "title": null, "labelExpr": "datum.value < 0 ? '-' + format(-datum.value, '~g') : format(datum.value, '~g')"}}
},
"layer": [
 {"transform": [{"filter": "datum.k == 'b1'"}], "mark": {"type": "area", "clip": true}, "encoding": {"y2": {"field": "y2"}, "color": {"datum": "Uncertainty in Area 1"}}},
 {"transform": [{"filter": "datum.k == 'm1'"}], "mark": {"type": "line", "clip": true, "strokeWidth": 2}, "encoding": {"color": {"datum": "Mean in Area 1"}}},
 {"transform": [{"filter": "datum.k == 'b2'"}], "mark": {"type": "area", "clip": true, "interpolate": "step-after"}, "encoding": {"y2": {"field": "y2"}, "color": {"datum": "Uncertainty in Area 2"}}},
 {"transform": [{"filter": "datum.k == 'm2'"}], "mark": {"type": "line", "clip": true, "strokeWidth": 1.5, "interpolate": "step-after", "point": {"filled": true, "size": 10}}, "encoding": {"color": {"datum": "Mean in Area 2"}}}
]
},
{
"width": 271, "height": 222, "title": "99.9.% Packet Drop", "data": {"name": "p3"},
"encoding": {
 "x": {"field": "t", "type": "quantitative", "scale": {"domain": [0, 1500], "nice": false}, "axis": {"values": [0, 500, 1000, 1500], "title": "Time (seconds)"}},
 "y": {"field": "y", "type": "quantitative", "scale": {"domain": [-7, 4], "nice": false, "zero": false}, "axis": {"values": [-6, -4, -2, 0, 2, 4], "title": null, "labelExpr": "datum.value < 0 ? '-' + format(-datum.value, '~g') : format(datum.value, '~g')"}}
},
"layer": [
 {"transform": [{"filter": "datum.k == 'b1'"}], "mark": {"type": "area", "clip": true, "interpolate": "monotone"}, "encoding": {"y2": {"field": "y2"}, "color": {"datum": "Uncertainty in Area 1"}}},
 {"transform": [{"filter": "datum.k == 'm1'"}], "mark": {"type": "line", "clip": true, "strokeWidth": 2, "interpolate": "monotone"}, "encoding": {"color": {"datum": "Mean in Area 1"}}},
 {"transform": [{"filter": "datum.k == 'b2'"}], "mark": {"type": "area", "clip": true, "interpolate": "step-after"}, "encoding": {"y2": {"field": "y2"}, "color": {"datum": "Uncertainty in Area 2"}}},
 {"transform": [{"filter": "datum.k == 'm2'"}], "mark": {"type": "line", "clip": true, "strokeWidth": 1.5, "interpolate": "step-after", "point": {"filled": true, "size": 10}}, "encoding": {"color": {"datum": "Mean in Area 2"}}}
]
},
{
"width": 271, "height": 222, "data": {"name": "p4"},
"title": {"text": "Area 2", "anchor": "start", "frame": "group", "fontSize": 22.5, "fontWeight": "normal", "color": "#0000ff", "dx": -98, "offset": 0},
"encoding": {
 "x": {"field": "t", "type": "quantitative", "scale": {"domain": [0, 1500], "nice": false}, "axis": {"values": [0, 500, 1000, 1500], "title": "Time (seconds)"}},
 "y": {"field": "y", "type": "quantitative", "scale": {"domain": [0, 0.08], "nice": false, "zero": false}, "axis": {"values": [0, 0.02, 0.04, 0.06, 0.08], "title": "u₂", "labelExpr": "datum.value < 0 ? '-' + format(-datum.value, '~g') : format(datum.value, '~g')"}}
},
"layer": [
 {"transform": [{"filter": "datum.k == 'b1'"}], "mark": {"type": "area", "clip": true}, "encoding": {"y2": {"field": "y2"}, "color": {"datum": "Uncertainty in Area 1"}}},
 {"transform": [{"filter": "datum.k == 'm1'"}], "mark": {"type": "line", "clip": true, "strokeWidth": 2}, "encoding": {"color": {"datum": "Mean in Area 1"}}},
 {"transform": [{"filter": "datum.k == 'b2'"}], "mark": {"type": "area", "clip": true}, "encoding": {"y2": {"field": "y2"}, "color": {"datum": "Uncertainty in Area 2"}}},
 {"transform": [{"filter": "datum.k == 'm2'"}], "mark": {"type": "line", "clip": true, "strokeWidth": 2, "point": {"filled": true, "size": 8}}, "encoding": {"color": {"datum": "Mean in Area 2"}}}
]
},
{
"width": 271, "height": 222, "data": {"name": "p5"},
"encoding": {
 "x": {"field": "t", "type": "quantitative", "scale": {"domain": [0, 1500], "nice": false}, "axis": {"values": [0, 500, 1000, 1500], "title": "Time (seconds)"}},
 "y": {"field": "y", "type": "quantitative", "scale": {"domain": [0, 0.15], "nice": false, "zero": false}, "axis": {"values": [0, 0.05, 0.1, 0.15], "title": null, "labelExpr": "datum.value < 0 ? '-' + format(-datum.value, '~g') : format(datum.value, '~g')"}}
},
"layer": [
 {"transform": [{"filter": "datum.k == 'b1'"}], "mark": {"type": "area", "clip": true}, "encoding": {"y2": {"field": "y2"}, "color": {"datum": "Uncertainty in Area 1"}}},
 {"transform": [{"filter": "datum.k == 'm1'"}], "mark": {"type": "line", "clip": true, "strokeWidth": 2}, "encoding": {"color": {"datum": "Mean in Area 1"}}},
 {"transform": [{"filter": "datum.k == 'b2'"}], "mark": {"type": "area", "clip": true, "interpolate": "step-after"}, "encoding": {"y2": {"field": "y2"}, "color": {"datum": "Uncertainty in Area 2"}}},
 {"transform": [{"filter": "datum.k == 'm2'"}], "mark": {"type": "line", "clip": true, "strokeWidth": 1.5, "interpolate": "step-after", "point": {"filled": true, "size": 10}}, "encoding": {"color": {"datum": "Mean in Area 2"}}}
]
},
{
"width": 271, "height": 222, "data": {"name": "p6"},
"encoding": {
 "x": {"field": "t", "type": "quantitative", "scale": {"domain": [0, 1500], "nice": false}, "axis": {"values": [0, 500, 1000, 1500], "title": "Time (seconds)"}},
 "y": {"field": "y", "type": "quantitative", "scale": {"domain": [-6.93, 6.93], "nice": false, "zero": false}, "axis": {"values": [-5, 0, 5], "title": null, "labelExpr": "datum.value < 0 ? '-' + format(-datum.value, '~g') : format(datum.value, '~g')"}}
},
"layer": [
 {"transform": [{"filter": "datum.k == 'b1'"}], "mark": {"type": "area", "clip": true, "interpolate": "monotone"}, "encoding": {"y2": {"field": "y2"}, "color": {"datum": "Uncertainty in Area 1"}}},
 {"transform": [{"filter": "datum.k == 'm1'"}], "mark": {"type": "line", "clip": true, "strokeWidth": 2, "interpolate": "monotone"}, "encoding": {"color": {"datum": "Mean in Area 1"}}},
 {"transform": [{"filter": "datum.k == 'b2'"}], "mark": {"type": "area", "clip": true, "interpolate": "step-after"}, "encoding": {"y2": {"field": "y2"}, "color": {"datum": "Uncertainty in Area 2"}}},
 {"transform": [{"filter": "datum.k == 'm2'"}], "mark": {"type": "line", "clip": true, "strokeWidth": 1.5, "interpolate": "step-after", "point": {"filled": true, "size": 10}}, "encoding": {"color": {"datum": "Mean in Area 2"}}}
]
}
]
}
